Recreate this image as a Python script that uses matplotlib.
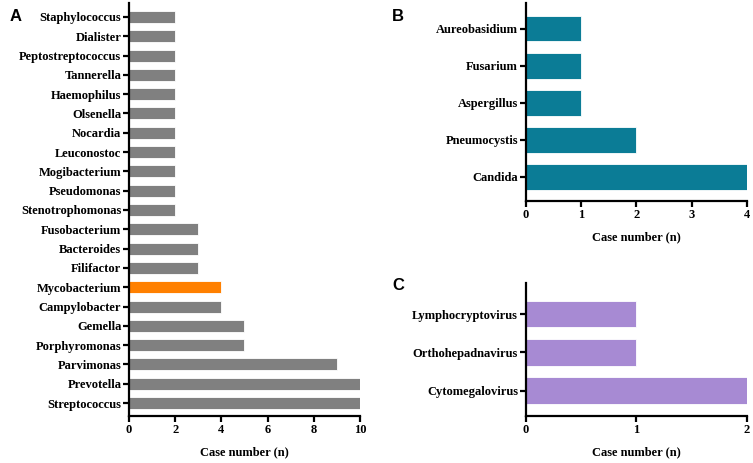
import matplotlib
matplotlib.use("Agg")
import matplotlib.pyplot as plt

# Panel A: bacteria (top to bottom as shown)
bacteria = ["Staphylococcus", "Dialister", "Peptostreptococcus", "Tannerella",
            "Haemophilus", "Olsenella", "Nocardia", "Leuconostoc", "Mogibacterium",
            "Pseudomonas", "Stenotrophomonas", "Fusobacterium", "Bacteroides",
            "Filifactor", "Mycobacterium", "Campylobacter", "Gemella",
            "Porphyromonas", "Parvimonas", "Prevotella", "Streptococcus"]
bacteria_n = [2, 2, 2, 2, 2, 2, 2, 2, 2, 2, 2, 3, 3, 3, 4, 4, 5, 5, 9, 10, 10]
highlight = "Mycobacterium"

# Panel B: fungi
fungi = ["Aureobasidium", "Fusarium", "Aspergillus", "Pneumocystis", "Candida"]
fungi_n = [1, 1, 1, 2, 4]

# Panel C: viruses
viruses = ["Lymphocryptovirus", "Orthohepadnavirus", "Cytomegalovirus"]
viruses_n = [1, 1, 2]

GRAY = "#808080"
ORANGE = "#FF8000"
TEAL = "#0B7C96"
PURPLE = "#A78AD3"

plt.rcParams["font.family"] = ["Liberation Serif", "DejaVu Serif"]
plt.rcParams["font.weight"] = "bold"

FS = 9


def style(ax, xmax, xticks):
    for s in ("top", "right"):
        ax.spines[s].set_visible(False)
    for s in ("left", "bottom"):
        ax.spines[s].set_linewidth(1.6)
    ax.tick_params(width=1.6, length=4, labelsize=FS, pad=1.5)
    ax.set_xlim(0, xmax)
    ax.set_xticks(xticks)
    for lab in ax.get_xticklabels() + ax.get_yticklabels():
        lab.set_fontweight("bold")
    ax.set_xlabel("Case number (n)", fontsize=FS, fontweight="bold", labelpad=8)


def hbars(ax, names, vals, colors, top_pad, bot_pad, h):
    names_r = names[::-1]
    vals_r = vals[::-1]
    cols_r = colors[::-1]
    y = list(range(len(names_r)))
    ax.barh(y, vals_r, height=h, color=cols_r, edgecolor="white", linewidth=0.6)
    ax.set_yticks(y)
    ax.set_yticklabels(names_r)
    ax.set_ylim(-bot_pad, len(names_r) - 1 + top_pad)


fig = plt.figure(figsize=(7.53, 4.63), dpi=100)

axA = fig.add_axes([0.1713, 0.1015, 0.3068, 0.892])
colsA = [ORANGE if b == highlight else GRAY for b in bacteria]
hbars(axA, bacteria, bacteria_n, colsA, 0.72, 0.67, 0.62)
style(axA, 10, range(0, 11, 2))

axB = fig.add_axes([0.698, 0.5659, 0.294, 0.4276])
hbars(axB, fungi, fungi_n, [TEAL] * len(fungi), 0.7, 0.65, 0.68)
style(axB, 4, range(0, 5))

axC = fig.add_axes([0.698, 0.1015, 0.294, 0.2873])
hbars(axC, viruses, viruses_n, [PURPLE] * len(viruses), 0.81, 0.66, 0.7)
style(axC, 2, range(0, 3))

for lbl, x, y in (("A", 0.013, 0.965), ("B", 0.521, 0.965), ("C", 0.521, 0.383)):
    fig.text(x, y, lbl, fontsize=12, fontweight="bold",
             family=["Liberation Sans", "DejaVu Sans"], va="center")

fig.savefig("out.png", dpi=100)
